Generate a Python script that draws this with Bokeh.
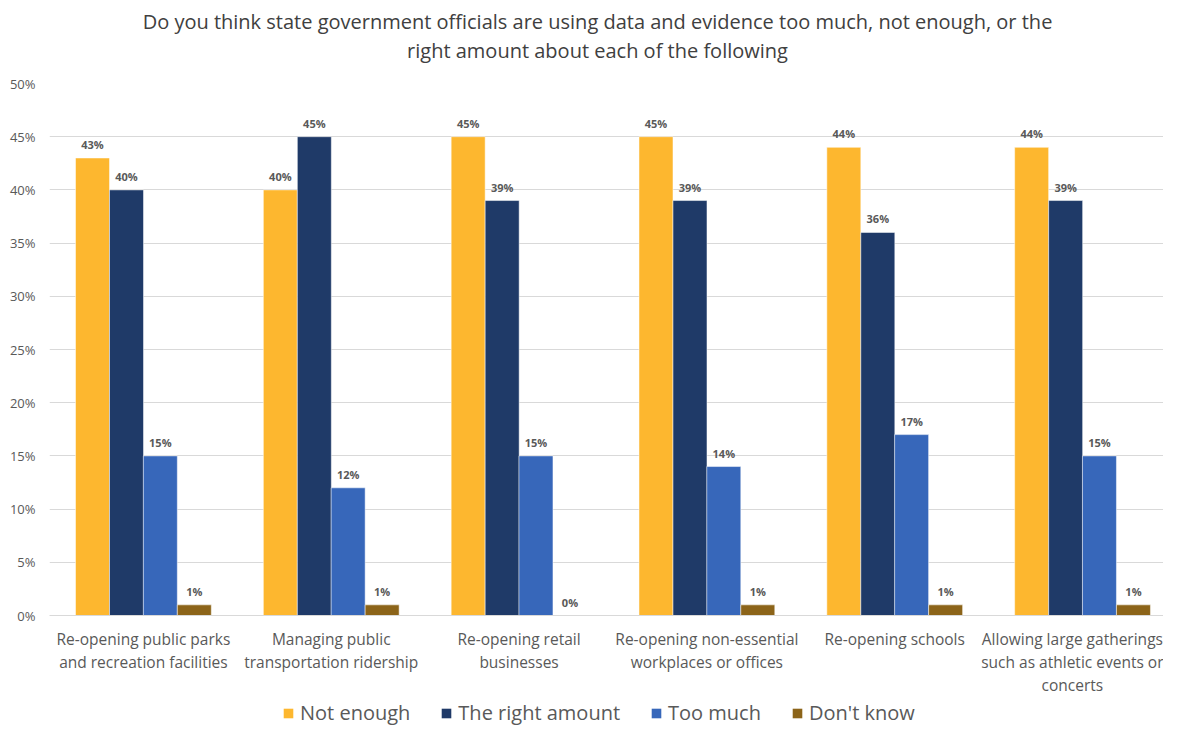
from bokeh.plotting import figure
from bokeh.layouts import column
from bokeh.models import ColumnDataSource, Range1d, FixedTicker, Legend, LegendItem, Label
from bokeh.transform import dodge
from bokeh.core.properties import value
from bokeh.embed import file_html
from bokeh.resources import INLINE

categories = [
    "Re-opening public parks\nand recreation facilities",
    "Managing public\ntransportation ridership",
    "Re-opening retail\nbusinesses",
    "Re-opening non-essential\nworkplaces or offices",
    "Re-opening schools",
    "Allowing large gatherings\nsuch as athletic events or\nconcerts",
]
series_names = ["Not enough", "The right amount", "Too much", "Don't know"]
not_enough = [43, 40, 45, 45, 44, 44]
right_amount = [40, 45, 39, 39, 36, 39]
too_much = [15, 12, 15, 14, 17, 15]
dont_know = [1, 1, 0, 1, 1, 1]
y_ticks = [0, 5, 10, 15, 20, 25, 30, 35, 40, 45, 50]

title_line1 = "Do you think state government officials are using data and evidence too much, not enough, or the"
title_line2 = "right amount about each of the following"

colors = ["#FDB72F", "#1F3A68", "#3767BA", "#8C6419"]
offsets = [-0.271, -0.09, 0.09, 0.271]
bar_w = 0.181
FONT = "Open Sans"
W = 1163

data = dict(x=list(range(len(categories))))
keys = ["ne", "ra", "tm", "dk"]
for k, s in zip(keys, [not_enough, right_amount, too_much, dont_know]):
    data[k] = s
    data[k + "_lbl"] = ["%d%%" % v for v in s]
src = ColumnDataSource(data)

# ---- title strip ----
TH = 64
tf = figure(width=W, height=TH, output_backend="svg", toolbar_location=None,
            x_range=Range1d(0, 1), y_range=Range1d(0, 1),
            x_axis_location=None, y_axis_location=None,
            min_border_left=0, min_border_right=0, min_border_top=0, min_border_bottom=0)
tf.grid.visible = False
tf.outline_line_color = None
for txt, yy in [(title_line1, TH - 21), (title_line2, TH - 50)]:
    tf.add_layout(Label(x=548, y=yy, x_units="screen", y_units="screen", text=txt,
                        text_align="center", text_baseline="middle", text_font=FONT,
                        text_font_size="20px", text_color="#404040"))

# ---- main chart ----
p = figure(width=W, height=634, output_backend="svg", toolbar_location=None,
           x_range=Range1d(-0.5, 5.431), y_range=Range1d(0, 50),
           min_border_left=49, min_border_right=0, min_border_top=19, min_border_bottom=79)
p.outline_line_color = None
p.background_fill_color = "white"

for k, name, c, off in zip(keys, series_names, colors, offsets):
    p.vbar(x=dodge("x", off, range=p.x_range), top=k, width=bar_w, source=src,
           fill_color=c, line_color="white", line_width=0.5)
    p.text(x=dodge("x", off, range=p.x_range), y=k, text=k + "_lbl", source=src,
           text_align="center", text_baseline="bottom", y_offset=-6,
           text_font=value(FONT), text_font_size="11px", text_font_style="bold",
           text_color="#595959")

p.yaxis.ticker = FixedTicker(ticks=y_ticks)
p.yaxis.major_label_overrides = {t: "%d%%" % t for t in y_ticks}
p.yaxis.axis_line_color = None
p.yaxis.major_tick_line_color = None
p.yaxis.major_tick_out = 0
p.yaxis.major_tick_in = 0
p.yaxis.minor_tick_line_color = None
p.yaxis.major_label_standoff = 14
p.yaxis.major_label_text_font = FONT
p.yaxis.major_label_text_font_size = "13px"
p.yaxis.major_label_text_color = "#595959"

p.xaxis.ticker = FixedTicker(ticks=list(range(len(categories))))
p.xaxis.major_label_overrides = {i: c for i, c in enumerate(categories)}
p.xaxis.axis_line_color = "#D9D9D9"
p.xaxis.major_tick_line_color = None
p.xaxis.major_tick_out = 0
p.xaxis.major_tick_in = 0
p.xaxis.minor_tick_line_color = None
p.xaxis.major_label_standoff = 12
p.xaxis.major_label_text_font = FONT
p.xaxis.major_label_text_font_size = "15.5px"
p.xaxis.major_label_text_line_height = 1.05
p.xaxis.major_label_text_color = "#595959"

p.xgrid.grid_line_color = None
p.ygrid.grid_line_color = "#D9D9D9"
p.ygrid.ticker = FixedTicker(ticks=y_ticks)

# ---- legend strip ----
lg = figure(width=W, height=28, output_backend="svg", toolbar_location=None,
            x_range=Range1d(-0.5, 5.431), y_range=Range1d(1000, 1001),
            x_axis_location=None, y_axis_location=None,
            min_border_left=0, min_border_right=0, min_border_top=0, min_border_bottom=0)
lg.grid.visible = False
lg.outline_line_color = None
items = []
for k, name, c in zip(keys, series_names, colors):
    r = lg.vbar(x="x", top=k, width=bar_w, source=src, fill_color=c, line_color=None)
    items.append(LegendItem(label=name, renderers=[r]))
legend = Legend(items=items, orientation="horizontal", location=(233, 0),
                label_text_font=FONT, label_text_font_size="20px", label_text_color="#595959",
                glyph_width=12, glyph_height=12, label_standoff=6, spacing=30,
                border_line_color=None, background_fill_alpha=0, margin=0, padding=0)
lg.add_layout(legend, "center")

layout = column(tf, p, lg, spacing=0)
open("out.html", "w").write(file_html(layout, INLINE))
